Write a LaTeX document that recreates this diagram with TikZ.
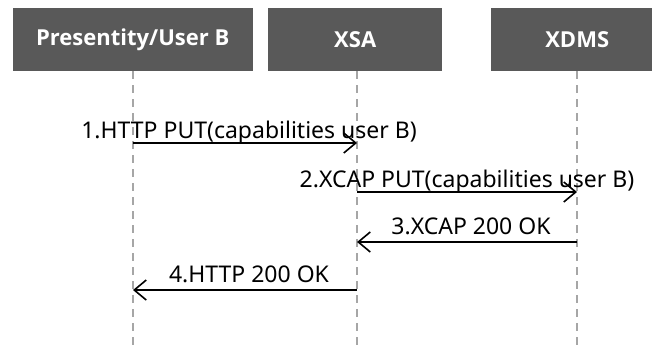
\documentclass[tikz,border=0pt]{standalone}
\usepackage{fontspec}
\setmainfont{Noto Sans}
\newfontfamily\headfont{Open Sans}
\usetikzlibrary{arrows.meta}
\definecolor{headfill}{HTML}{595959}
\definecolor{lifegray}{HTML}{A6A6A6}
\begin{document}
\begin{tikzpicture}[x=1pt,y=-1pt,
  header/.style={fill=headfill,text=white,font=\headfont\fontsize{22}{26}\selectfont\bfseries,
    minimum height=63pt,inner sep=0pt,anchor=north west},
  lifeline/.style={draw=lifegray,line width=1.3pt,dash pattern=on 8pt off 6pt},
  msg/.style={draw=black,line width=1.6pt,-{Straight Barb[length=12pt,width=20pt,line width=1.6pt]}},
  msglabel/.style={font=\fontsize{23}{27}\selectfont,anchor=base,inner sep=0pt}]
\useasboundingbox (0,0) rectangle (652,345);
\begin{scope}
\clip (0,0) rectangle (652,345);
% participant boxes
\node[header,minimum width=240pt] (pres) at (12.5,8) {Presentity/User B};
\node[header,minimum width=174pt] (xsa) at (268,8) {XSA};
\node[header,minimum width=174pt] (xdms) at (491,8) {\hspace*{-2pt}XDMS};
\end{scope}
% lifelines
\coordinate (presT) at (133,71);
\coordinate (xsaT) at (357,71);
\coordinate (xdmsT) at (577,71);
\coordinate (presB) at (133,345);
\coordinate (xsaB) at (357,345);
\coordinate (xdmsB) at (577,345);
\draw[lifeline] (presT) -- (presB);
\draw[lifeline] (xsaT) -- (xsaB);
\draw[lifeline] (xdmsT) -- (xdmsB);
% message anchor points on the lifelines
\coordinate (m1a) at (133,143); \coordinate (m1b) at (357,143);
\coordinate (m2a) at (357,192); \coordinate (m2b) at (577,192);
\coordinate (m3a) at (577,242); \coordinate (m3b) at (357,242);
\coordinate (m4a) at (357,290); \coordinate (m4b) at (133,290);
% messages
\draw[msg] (m1a) -- node[msglabel,yshift=5pt,xshift=4pt] {1.HTTP PUT(capabilities user B)} (m1b);
\draw[msg] (m2a) -- node[msglabel,yshift=5pt] {2.XCAP PUT(capabilities user B)} (m2b);
\draw[msg] (m3a) -- node[msglabel,yshift=8pt,xshift=4pt] {3.XCAP 200 OK} (m3b);
\draw[msg] (m4a) -- node[msglabel,yshift=8pt,xshift=4pt] {4.HTTP 200 OK} (m4b);
\end{tikzpicture}
\end{document}
